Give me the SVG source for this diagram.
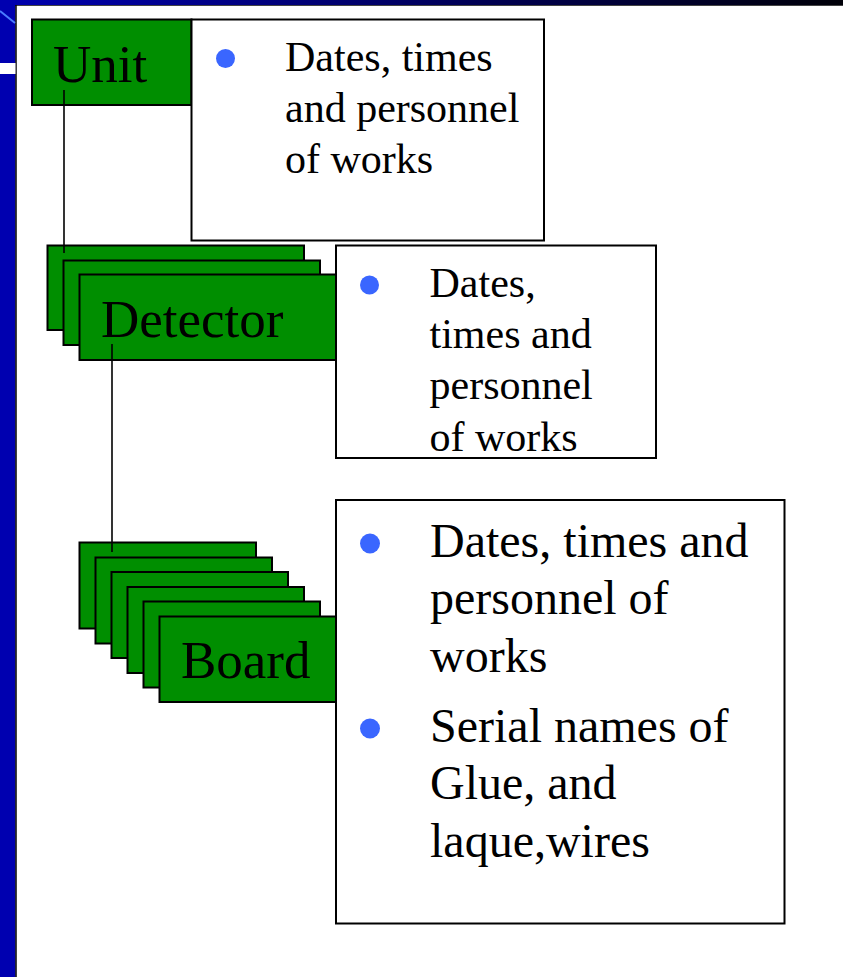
<svg xmlns="http://www.w3.org/2000/svg" width="843" height="977" viewBox="0 0 843 977">
<defs>
<linearGradient id="topbar" x1="0" y1="0" x2="1" y2="0">
<stop offset="0" stop-color="#0000b0"/>
<stop offset="0.5" stop-color="#000060"/>
<stop offset="1" stop-color="#000008"/>
</linearGradient>
<style>
.g{fill:#008e00;stroke:#000;stroke-width:2}
.tb{fill:#fff;stroke:#000;stroke-width:2}
.lbl{font-family:"Liberation Serif","Times New Roman",serif;font-size:53px;fill:#000}
.t42{font-family:"Liberation Serif","Times New Roman",serif;font-size:42px;fill:#000}
.t48{font-family:"Liberation Serif","Times New Roman",serif;font-size:48px;fill:#000}
.b{fill:#3a66ff}
.c{stroke:#000;stroke-width:1.6;fill:none}
</style>
</defs>
<rect x="0" y="0" width="843" height="977" fill="#fff"/>
<rect x="0" y="0" width="843" height="5" fill="url(#topbar)"/>
<line x1="0" y1="5.5" x2="843" y2="5.5" stroke="#444" stroke-width="1"/>
<rect x="0" y="0" width="15.5" height="977" fill="#0000b0"/>
<line x1="16" y1="5" x2="16" y2="977" stroke="#000" stroke-width="1.5"/>
<line x1="0" y1="11" x2="15" y2="23" stroke="#4a7cff" stroke-width="2"/>
<rect x="0" y="63" width="15.5" height="11" fill="#fff"/>

<g id="unit">
<rect class="g" x="32" y="19.5" width="159.5" height="85.5"/>
<text class="lbl" x="53" y="82">Unit</text>
</g>
<g id="unit-note">
<rect class="tb" x="191.5" y="19.5" width="352.5" height="221"/>
<circle class="b" cx="225.5" cy="58.5" r="9.5"/>
<text class="t42" x="285" y="70.7">Dates, times</text>
<text class="t42" x="285" y="121.7">and personnel</text>
<text class="t42" x="285" y="172.7">of works</text>
</g>

<g id="detector">
<rect class="g" x="47.5" y="245.5" width="256.5" height="84.5"/>
<rect class="g" x="63.5" y="260.5" width="256.5" height="84.5"/>
<rect class="g" x="79.5" y="274.5" width="256.5" height="85.5"/>
<text class="lbl" x="101" y="337">Detector</text>
</g>
<g id="detector-note">
<rect class="tb" x="336" y="245.5" width="320" height="212.5"/>
<circle class="b" cx="369.5" cy="285" r="9.5"/>
<text class="t42" x="429.5" y="297.3">Dates,</text>
<text class="t42" x="429.5" y="348.3">times and</text>
<text class="t42" x="429.5" y="399.3">personnel</text>
<text class="t42" x="429.5" y="450.5">of works</text>
</g>

<g id="board">
<rect class="g" x="79.5" y="542.5" width="176.5" height="86"/>
<rect class="g" x="95.5" y="557.5" width="176.5" height="86"/>
<rect class="g" x="111.5" y="572" width="176.5" height="86"/>
<rect class="g" x="127.5" y="587" width="176.5" height="86"/>
<rect class="g" x="143.5" y="601.5" width="176.5" height="86"/>
<rect class="g" x="159.5" y="616.5" width="176.5" height="85.5"/>
<text class="lbl" x="181" y="678">Board</text>
</g>
<g id="board-note">
<rect class="tb" x="336" y="500" width="448.5" height="423.5"/>
<circle class="b" cx="370" cy="543.5" r="10"/>
<text class="t48" x="430" y="556.7">Dates, times and</text>
<text class="t48" x="430" y="614.3">personnel of</text>
<text class="t48" x="430" y="671.7">works</text>
<circle class="b" cx="370" cy="728.5" r="10"/>
<text class="t48" x="430" y="741.7">Serial names of</text>
<text class="t48" x="430" y="799.3">Glue, and</text>
<text class="t48" x="430" y="856.7">laque,wires</text>
</g>

<g id="connectors">
<line class="c" x1="64" y1="90" x2="64" y2="253"/>
<line class="c" x1="112" y1="344" x2="112" y2="552"/>
</g>
</svg>
